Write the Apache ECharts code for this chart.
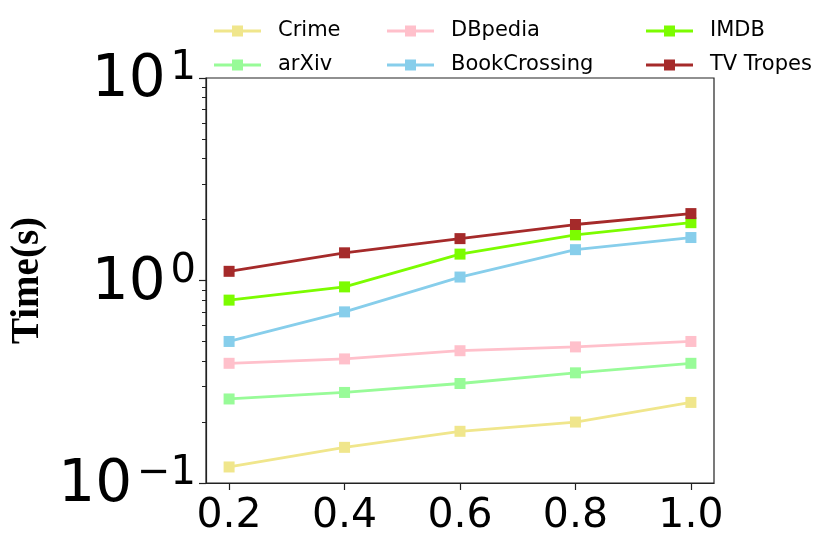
<!DOCTYPE html>
<html>
<head>
<meta charset="utf-8">
<script src="https://cdn.jsdelivr.net/npm/echarts@6/dist/echarts.min.js"></script>
<style>
  html, body { margin: 0; padding: 0; background: #fff; }
  #chart { width: 830px; height: 552px; }
</style>
</head>
<body>
<div id="chart"></div>
<script>
"use strict";

/* 数据 */
const xValues      = [0.2, 0.4, 0.6, 0.8, 1.0];
const crime        = [0.12, 0.15, 0.18, 0.20, 0.25];
const arxiv        = [0.26, 0.28, 0.31, 0.35, 0.39];
const dbpedia      = [0.39, 0.41, 0.45, 0.47, 0.50];
const bookCrossing = [0.50, 0.70, 1.04, 1.42, 1.63];
const imdb         = [0.80, 0.93, 1.35, 1.68, 1.93];
const tvTropes     = [1.11, 1.37, 1.61, 1.89, 2.14];

const xTicks       = [0.2, 0.4, 0.6, 0.8, 1.0];
const yMajorTicks  = [0.1, 1, 10];
const yMinorTicks  = [0.2, 0.3, 0.4, 0.5, 0.6, 0.7, 0.8, 0.9, 2, 3, 4, 5, 6, 7, 8, 9];

const seriesDefs = [
  { name: "Crime",        data: crime,        color: "#F0E68C" },
  { name: "arXiv",        data: arxiv,        color: "#98FB98" },
  { name: "DBpedia",      data: dbpedia,      color: "#FFC0CB" },
  { name: "BookCrossing", data: bookCrossing, color: "#87CEEB" },
  { name: "IMDB",         data: imdb,         color: "#7CFC00" },
  { name: "TV Tropes",    data: tvTropes,     color: "#A52A2A" }
];

const AXIS_COLOR = "#222";
const FONT = "DejaVu Sans";
// 图例图标：线段 + 方块
const LEGEND_ICON = "path://M0,4.1L47,4.1L47,6.9L0,6.9Z M18,0L29,0L29,11L18,11Z";

function expLabel(v) {
  const e = Math.round(Math.log10(v));
  const s = e < 0 ? "\u2212" + Math.abs(e) : String(e);
  return "{b|10}{s|" + s + "}";
}

function legendBlock(left, names) {
  return {
    orient: "vertical",
    left: left, top: 20,
    padding: 0,
    itemGap: 12,
    itemWidth: 47, itemHeight: 11,
    icon: LEGEND_ICON,
    data: names,
    textStyle: { fontFamily: FONT, fontSize: 21, color: "#000", lineHeight: 22, padding: [0, 0, 0, 12] }
  };
}

const chart = echarts.init(document.getElementById("chart"), null, { renderer: "canvas" });

chart.setOption({
  animation: false,
  backgroundColor: "#fff",
  legend: [
    legendBlock(214, ["Crime", "arXiv"]),
    legendBlock(387, ["DBpedia", "BookCrossing"]),
    legendBlock(646, ["IMDB", "TV Tropes"])
  ],
  grid: {
    left: 206, right: 116, top: 78, bottom: 69,
    show: true, borderColor: AXIS_COLOR, borderWidth: 1.2, backgroundColor: "transparent"
  },
  xAxis: {
    type: "value", min: 0.16, max: 1.04,
    axisLine: { show: true, lineStyle: { color: AXIS_COLOR, width: 1.2 } },
    axisTick: { show: true, length: 7, lineStyle: { color: AXIS_COLOR, width: 1.2 }, customValues: xTicks },
    axisLabel: {
      customValues: xTicks,
      formatter: v => v.toFixed(1),
      fontFamily: FONT, fontSize: 41, color: "#000", margin: 13
    },
    splitLine: { show: false }
  },
  yAxis: [
    {
      type: "log", logBase: 10, min: 0.1, max: 10,
      name: "Time(s)", nameLocation: "middle", nameGap: 144,
      nameTextStyle: { fontFamily: "Liberation Serif", fontWeight: "bold", fontSize: 39, color: "#000" },
      axisLine: { show: true, lineStyle: { color: AXIS_COLOR, width: 1.2 } },
      axisTick: { show: true, length: 7, lineStyle: { color: AXIS_COLOR, width: 1.2 }, customValues: yMajorTicks },
      axisLabel: {
        customValues: yMajorTicks,
        formatter: expLabel,
        margin: 10,
        rich: {
          b: { fontFamily: FONT, fontSize: 58, lineHeight: 58, padding: [6, 0, 0, 0], color: "#000" },
          s: { fontFamily: FONT, fontSize: 40, lineHeight: 18, verticalAlign: "top", padding: [0, 0, 0, 5], color: "#000" }
        }
      },
      splitLine: { show: false }
    },
    {
      type: "log", logBase: 10, min: 0.1, max: 10,
      position: "left",
      axisLine: { show: false },
      axisTick: { show: true, length: 4, lineStyle: { color: AXIS_COLOR, width: 1 }, customValues: yMinorTicks },
      axisLabel: { show: false },
      splitLine: { show: false }
    }
  ],
  series: seriesDefs.map(s => ({
    name: s.name,
    type: "line",
    yAxisIndex: 0,
    data: xValues.map((x, i) => [x, s.data[i]]),
    symbol: "rect",
    symbolSize: 11,
    lineStyle: { color: s.color, width: 2.8 },
    itemStyle: { color: s.color },
    emphasis: { disabled: true }
  }))
});
</script>
</body>
</html>
